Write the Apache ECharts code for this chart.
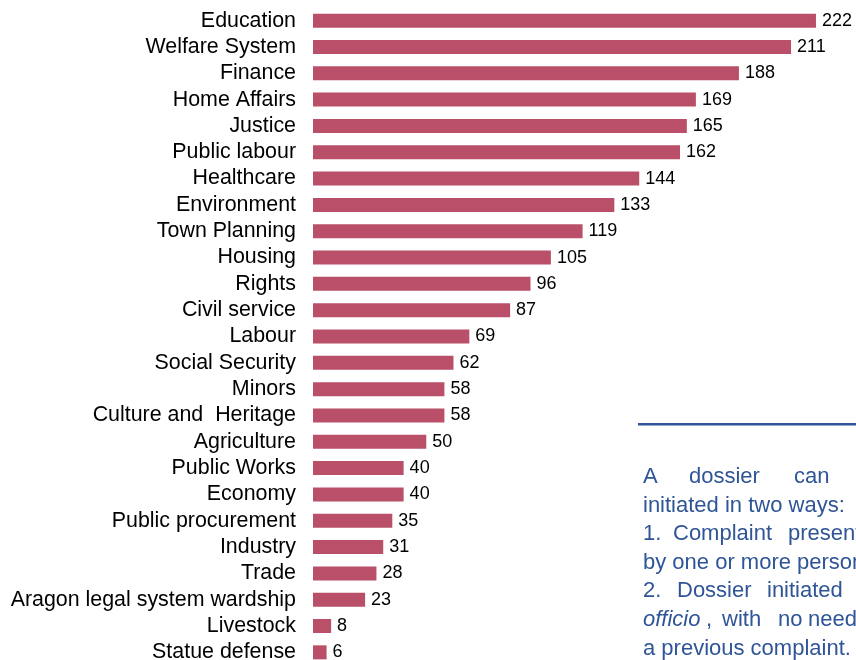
<!DOCTYPE html>
<html>
<head>
<meta charset="utf-8">
<script src="https://cdn.jsdelivr.net/npm/echarts@6/dist/echarts.min.js"></script>
<style>
html,body{margin:0;padding:0;background:#fff;}
#chart{width:856px;height:660px;}
</style>
</head>
<body>
<div id="chart"></div>
<script>
var categories = ["Education","Welfare System","Finance","Home Affairs","Justice","Public labour","Healthcare","Environment","Town Planning","Housing","Rights","Civil service","Labour","Social Security","Minors","Culture and  Heritage","Agriculture","Public Works","Economy","Public procurement","Industry","Trade","Aragon legal system wardship","Livestock","Statue defense"];
var values = [222,211,188,169,165,162,144,133,119,105,96,87,69,62,58,58,50,40,40,35,31,28,23,8,6];

// Note text lines; each line is a list of [word, italic] pieces (justified words)
var noteLines = [
  [["A",0],["dossier",0],["can",0],["be",0]],
  [["initiated in two ways:",0]],
  [["1.",0],["Complaint",0],["presented",0]],
  [["by one or more persons.",0]],
  [["2.",0],["Dossier",0],["initiated",0],["ex",0]],
  [["officio",1],[",",0],["with",0],["no",0],["need",0],["of",0]],
  [["a previous complaint.",0]]
];
var noteWordX = [
  [643,689,794,864],
  [643],
  [643,673,788],
  [643],
  [643,677,767,858],
  [643,706,722,778,808,870],
  [643]
];

var chart = echarts.init(document.getElementById('chart'));
var noteColor = '#2F5597';
var graphics = [{
  type:'rect', shape:{x:638,y:423,width:230,height:2.5}, style:{fill:noteColor}, silent:true
}];
noteLines.forEach(function(line, i){
  line.forEach(function(w, j){
    graphics.push({
      type:'text', x:noteWordX[i][j], y:477 + 28.6*i,
      style:{text:w[0], fill:noteColor, font:(w[1]?'italic ':'')+'22px "Liberation Sans", Arial, sans-serif', textVerticalAlign:'middle', textAlign:'left'},
      silent:true
    });
  });
});

chart.setOption({
  animation:false,
  grid:{left:313, top:7.5, width:566.4, height:658, outerBoundsMode:'none', containLabel:false},
  xAxis:{type:'value', min:0, max:250, show:false},
  yAxis:{
    type:'category', data:categories, inverse:true,
    axisLine:{show:false}, axisTick:{show:false}, splitLine:{show:false},
    axisLabel:{interval:0, fontSize:21.4, color:'#000', margin:17, fontFamily:'"Liberation Sans", Arial, sans-serif'}
  },
  series:[{
    type:'bar', data:values, barWidth:14,
    itemStyle:{color:'#B94F68'},
    label:{show:true, position:'right', distance:6, fontSize:18, color:'#000', fontFamily:'"Liberation Sans", Arial, sans-serif'}
  }],
  graphic:graphics
});
</script>
</body>
</html>
